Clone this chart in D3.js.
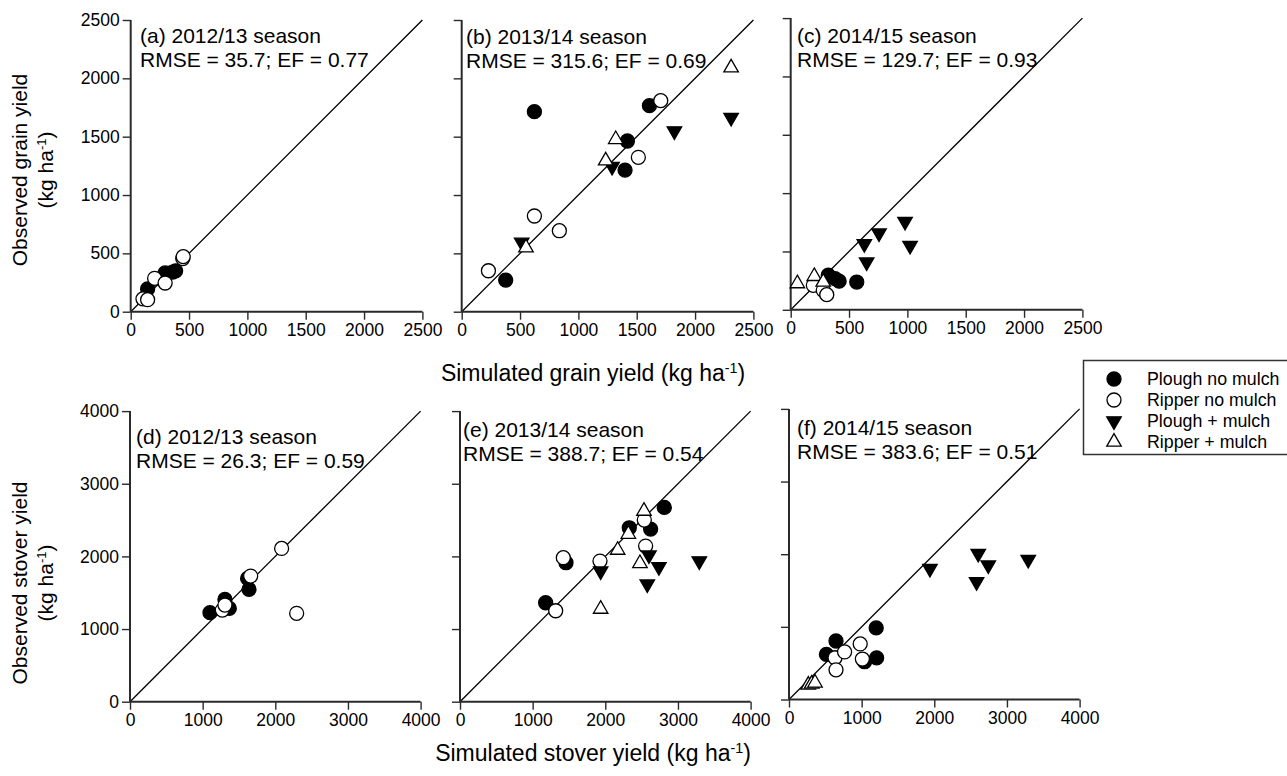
<!DOCTYPE html>
<html>
<head>
<meta charset="utf-8">
<script src="https://cdn.jsdelivr.net/npm/d3@7"></script>
<style>
  html, body { margin: 0; padding: 0; background: #fff; }
  svg { display: block; }
  text { font-family: "Liberation Sans", Arial, sans-serif; fill: #000; }
</style>
</head>
<body>
<svg id="chart" width="1287" height="776"></svg>
<script>
// ---------------- DATA ----------------
const treatments = ["Plough no mulch", "Ripper no mulch", "Plough + mulch", "Ripper + mulch"];
const grainTicks = [0, 500, 1000, 1500, 2000, 2500];
const stoverTicks = [0, 1000, 2000, 3000, 4000];

const panelTitles = ["(a) 2012/13 season", "(b) 2013/14 season", "(c) 2014/15 season",
                     "(d) 2012/13 season", "(e) 2013/14 season", "(f) 2014/15 season"];
const panelStats = ["RMSE = 35.7; EF = 0.77", "RMSE = 315.6; EF = 0.69", "RMSE = 129.7; EF = 0.93",
                    "RMSE = 26.3; EF = 0.59", "RMSE = 388.7; EF = 0.54", "RMSE = 383.6; EF = 0.51"];

// [simulated, observed]
const a_ploughNoMulch = [[145,195],[295,332],[360,340],[385,350]];
const a_ripperNoMulch = [[105,110],[145,103],[205,286],[295,246],[446,455],[450,472]];
const a_ploughMulch = [];
const a_ripperMulch = [];

const b_ploughNoMulch = [[377,271],[623,1714],[1420,1463],[1400,1214],[1609,1766]];
const b_ripperNoMulch = [[229,351],[623,820],[837,694],[1514,1323],[1706,1809]];
const b_ploughMulch = [[514,594],[1289,1243],[1823,1549],[2309,1663]];
const b_ripperMulch = [[551,549],[1234,1294],[1320,1477],[2309,2091]];

const c_ploughNoMulch = [[322,296],[380,267],[415,245],[566,238]];
const c_ripperNoMulch = [[194,210],[279,167],[309,130]];
const c_ploughMulch = [[631,566],[651,409],[757,657],[980,757],[1023,551]];
const c_ripperMulch = [[57,225],[202,287],[279,238]];

const d_ploughNoMulch = [[1101,1225],[1307,1408],[1367,1284],[1619,1697],[1638,1546]];
const d_ripperNoMulch = [[1271,1261],[1307,1330],[1661,1729],[2087,2110],[2294,1216]];
const d_ploughMulch = [];
const d_ripperMulch = [];

const e_ploughNoMulch = [[1179,1362],[1459,1913],[2330,2394],[2624,2376],[2812,2674]];
const e_ripperNoMulch = [[1317,1252],[1422,1982],[1927,1936],[2537,2500],[2555,2142]];
const e_ploughMulch = [[1936,1798],[2601,2018],[2738,1858],[2578,1619],[3294,1936]];
const e_ripperMulch = [[1936,1275],[2170,2087],[2317,2307],[2532,2624],[2477,1904]];

const f_ploughNoMulch = [[515,620],[647,805],[1040,520],[1206,573],[1200,985]];
const f_ripperNoMulch = [[633,575],[647,408],[765,655],[980,765],[1010,557]];
const f_ploughMulch = [[1940,1803],[2605,2009],[2743,1849],[2582,1619],[3293,1927]];
const f_ripperMulch = [[266,200],[312,213],[358,229]];

// ---------------- LAYOUT ----------------
const panels = [
  {x0:130.7, y0:311.7, w:291.7, h:291.7, ticks:grainTicks, yLabels:true, tx:140, ty1:43, ty2:67,
   series:[a_ploughNoMulch, a_ripperNoMulch, a_ploughMulch, a_ripperMulch]},
  {x0:461.7, y0:311.7, w:291.7, h:291.7, ticks:grainTicks, yLabels:false, tx:466, ty1:44, ty2:68,
   series:[b_ploughNoMulch, b_ripperNoMulch, b_ploughMulch, b_ripperMulch]},
  {x0:790.7, y0:309.8, w:291.7, h:291.7, ticks:grainTicks, yLabels:false, tx:797, ty1:43, ty2:67,
   series:[c_ploughNoMulch, c_ripperNoMulch, c_ploughMulch, c_ripperMulch]},
  {x0:130, y0:701.7, w:290.6, h:290.6, ticks:stoverTicks, yLabels:true, tx:136, ty1:444, ty2:468,
   series:[d_ploughNoMulch, d_ripperNoMulch, d_ploughMulch, d_ripperMulch]},
  {x0:460, y0:701.7, w:290.6, h:290.6, ticks:stoverTicks, yLabels:false, tx:463, ty1:437, ty2:461,
   series:[e_ploughNoMulch, e_ripperNoMulch, e_ploughMulch, e_ripperMulch]},
  {x0:789, y0:699.5, w:290.6, h:290.6, ticks:stoverTicks, yLabels:false, tx:797, ty1:435, ty2:459,
   series:[f_ploughNoMulch, f_ripperNoMulch, f_ploughMulch, f_ripperMulch]}
];

const svg = d3.select("#chart");
const AX = "#2a2a2a";

// marker shapes
const R = 7, S = 14.5;
function triPath(up) {
  const h = S * 0.866;
  const t = up ? -h * 2/3 : h * 2/3;
  const b = up ? h / 3 : -h / 3;
  return `M0,${t}L${S/2},${b}L${-S/2},${b}Z`;
}
const markerStyle = [
  {shape:"circle", fill:"#000"},
  {shape:"circle", fill:"#fff"},
  {shape:"tridown", fill:"#000"},
  {shape:"triup", fill:"#fff"}
];
function drawMarker(g, style, x, y) {
  if (style.shape === "circle") {
    g.append("circle").attr("cx", x).attr("cy", y).attr("r", R)
      .attr("fill", style.fill).attr("stroke", "#000").attr("stroke-width", 1.3);
  } else {
    g.append("path").attr("d", triPath(style.shape === "triup"))
      .attr("transform", `translate(${x},${y})`)
      .attr("fill", style.fill).attr("stroke", "#000").attr("stroke-width", 1.3)
      .attr("stroke-linejoin", "miter");
  }
}

panels.forEach((p, i) => {
  const max = p.ticks[p.ticks.length - 1];
  const xs = d3.scaleLinear().domain([0, max]).range([p.x0, p.x0 + p.w]);
  const ys = d3.scaleLinear().domain([0, max]).range([p.y0, p.y0 - p.h]);
  const g = svg.append("g");

  // 1:1 line
  g.append("line").attr("x1", xs(0)).attr("y1", ys(0)).attr("x2", xs(max)).attr("y2", ys(max))
    .attr("stroke", "#000").attr("stroke-width", 1.3);

  // axes
  const xa = d3.axisBottom(xs).tickValues(p.ticks).tickSize(8).tickPadding(4).tickFormat(d3.format("d"));
  const ya = d3.axisLeft(ys).tickValues(p.ticks).tickSize(8).tickPadding(3)
               .tickFormat(p.yLabels ? d3.format("d") : () => "");
  const gx = g.append("g").attr("transform", `translate(0,${p.y0})`).call(xa);
  const gy = g.append("g").attr("transform", `translate(${p.x0},0)`).call(ya);
  [gx, gy].forEach(ax => {
    ax.select(".domain").attr("stroke", AX).attr("stroke-width", 2).attr("d",
      ax === gx ? `M${xs(0)},0H${xs(max)}` : `M0,${ys(0)}V${ys(max)}`);
    ax.selectAll(".tick line").attr("stroke", AX).attr("stroke-width", 1.4);
    ax.selectAll(".tick text").attr("font-size", 17.5).attr("fill", "#000")
      .attr("font-family", "Liberation Sans, Arial, sans-serif");
  });

  // markers
  p.series.forEach((arr, k) => {
    arr.forEach(d => drawMarker(g, markerStyle[k], xs(d[0]), ys(d[1])));
  });

  // annotations
  g.append("text").attr("x", p.tx).attr("y", p.ty1).attr("font-size", 21).text(panelTitles[i]);
  g.append("text").attr("x", p.tx).attr("y", p.ty2).attr("font-size", 21).text(panelStats[i]);
});

// axis titles
function kgText(sel, prefix) {
  sel.append("tspan").text(prefix + "(kg ha");
  sel.append("tspan").attr("font-size", "0.62em").attr("dy", "-0.55em").text("-1");
  sel.append("tspan").attr("dy", "0.34em").text(")");
}
const xt1 = svg.append("text").attr("x", 593).attr("y", 381).attr("text-anchor", "middle").attr("font-size", 23);
kgText(xt1, "Simulated grain yield ");
const xt2 = svg.append("text").attr("x", 593).attr("y", 761).attr("text-anchor", "middle").attr("font-size", 23);
kgText(xt2, "Simulated stover yield ");

function yTitle(cy, line1) {
  const g = svg.append("g").attr("transform", `translate(0,${cy}) rotate(-90)`);
  g.append("text").attr("x", 0).attr("y", 27).attr("text-anchor", "middle").attr("font-size", 21).text(line1);
  const t = g.append("text").attr("x", 0).attr("y", 53).attr("text-anchor", "middle").attr("font-size", 21);
  kgText(t, "");
}
yTitle(170, "Observed grain yield");
yTitle(583, "Observed stover yield");

// legend
const lg = svg.append("g");
lg.append("rect").attr("x", 1083.5).attr("y", 360.5).attr("width", 220).attr("height", 94)
  .attr("fill", "#fff").attr("stroke", "#333").attr("stroke-width", 1.5);
treatments.forEach((name, k) => {
  const cy = 379 + k * 21;
  drawMarker(lg, markerStyle[k], 1114, cy);
  lg.append("text").attr("x", 1147).attr("y", cy + 6).attr("font-size", 17.8).text(name);
});
</script>
</body>
</html>
